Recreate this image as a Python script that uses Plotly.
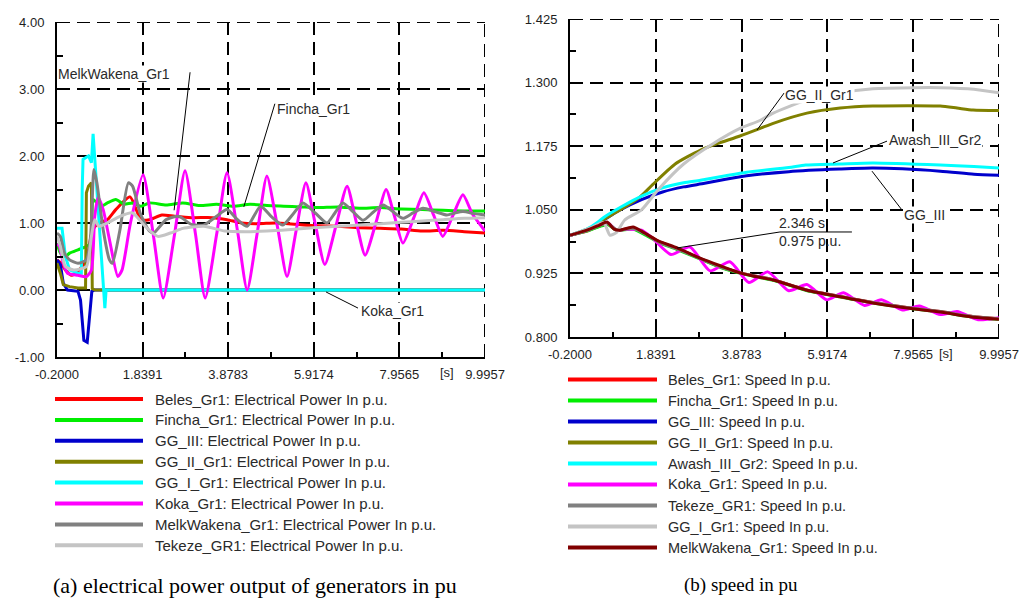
import plotly.graph_objects as go

W, H = 1020, 601

# ---------------- (a) electrical power output, p.u. ----------------
BELES_P_T = [-0.2, -0.1, 0.0, 0.15, 0.3, 0.5, 0.65, 0.8, 1.0, 1.2, 1.54, 1.8, 2.0, 2.3, 2.6, 3.0, 3.5, 3.85, 4.2, 4.6,
             5.0, 5.5, 6.0, 6.5, 7.0, 7.5, 8.0, 8.5, 9.0, 9.5, 9.9957]
BELES_P = [0.45, 0.4, 0.3, 0.22, 0.28, 0.45, 0.9, 1.0, 1.05, 1.2, 1.39, 1.05, 1.05, 1.12, 1.1, 1.08, 1.08, 1.05, 1.0, 0.99,
           1.0, 0.98, 0.96, 0.95, 0.93, 0.92, 0.91, 0.88, 0.89, 0.87, 0.85]

FINCHA_P_T = [-0.2, -0.12, 0.0, 0.1, 0.3, 0.5, 0.6, 0.66, 0.75, 0.85, 1.0, 1.2, 1.4, 1.6, 1.8, 2.0, 2.4, 2.8, 3.2, 3.6,
              4.0, 4.4, 4.8, 5.2, 5.6, 6.0, 6.5, 7.0, 7.5, 8.0, 8.5, 9.0, 9.5, 9.9957]
FINCHA_P = [0.7, 0.55, 0.5, 0.55, 0.6, 0.65, 0.7, 1.35, 1.3, 1.25, 1.3, 1.35, 1.28, 1.3, 1.25, 1.3, 1.27, 1.3, 1.26, 1.28,
            1.25, 1.28, 1.26, 1.25, 1.24, 1.23, 1.24, 1.22, 1.23, 1.21, 1.2, 1.19, 1.18, 1.18]

GG3_P_T = [-0.2, -0.12, -0.05, 0.05, 0.3, 0.36, 0.40, 0.44, 0.52, 0.56, 0.6, 0.63, 0.7, 9.9957]
GG3_P = [0.45, 0.38, 0.1, 0.0, -0.02, -0.15, -0.45, -0.75, -0.78, -0.5, -0.15, -0.02, 0.0, 0.0]

GG2_P_T = [-0.2, -0.12, -0.05, 0.1, 0.3, 0.48, 0.5, 0.55, 0.62, 0.64, 0.7, 9.9957]
GG2_P = [0.4, 0.25, 0.08, 0.05, 0.03, 0.03, 1.45, 1.55, 1.6, 0.02, 0.0, 0.0]

GG1_P_T = [-0.2, -0.08, 0.0, 0.1, 0.3, 0.38, 0.40, 0.42, 0.55, 0.62, 0.66, 0.70, 0.8, 0.9, 0.94, 0.97, 9.9957]
GG1_P = [0.92, 0.92, 0.5, 0.3, 0.25, 0.25, 1.5, 1.95, 2.0, 1.9, 2.33, 1.95, 0.9, 0.05, -0.27, 0.0, 0.0]

KOKA_P_T = [-0.2, -0.15, -0.05, 0.05, 0.3, 0.5, 0.62, 0.7, 0.78, 0.9, 1.05, 1.25, 1.35, 1.55, 1.85, 2.1, 2.33, 2.6,
            2.85, 3.1, 3.33, 3.6, 3.85, 4.1, 4.33, 4.57, 4.8, 5.05, 5.28, 5.5, 5.73, 5.95, 6.18, 6.45, 6.71, 6.92,
            7.14, 7.4, 7.64, 7.84, 8.04, 8.3, 8.54, 8.77, 8.99, 9.23, 9.47, 9.7, 9.9957]
KOKA_P = [0.68, 0.66, 0.4, 0.25, 0.22, 0.2, 0.3, 1.1, 1.38, 1.2, 0.75, 0.2, 0.3, 1.0, 1.72, 0.8, -0.12, 0.83,
          1.78, 0.83, -0.12, 0.82, 1.75, 0.88, 0.0, 0.85, 1.7, 0.95, 0.2, 0.9, 1.6, 0.99, 0.38, 0.97, 1.55, 1.04,
          0.52, 1.01, 1.5, 1.1, 0.7, 1.08, 1.45, 1.12, 0.8, 1.11, 1.42, 1.13, 0.88]

MELK_P_T = [-0.2, -0.12, -0.02, 0.1, 0.3, 0.5, 0.6, 0.68, 0.75, 0.9, 1.05, 1.12, 1.3, 1.5, 1.6, 1.78, 2.0, 2.1, 2.4,
            2.7, 3.0, 3.3, 3.6, 3.85, 4.1, 4.33, 4.65, 4.9, 5.18, 5.42, 5.66, 5.95, 6.23, 6.42, 6.61, 6.85, 7.09,
            7.33, 7.57, 7.8, 8.04, 8.28, 8.52, 8.8, 9.09, 9.28, 9.47, 9.75, 9.9957]
MELK_P = [0.85, 0.8, 0.55, 0.45, 0.4, 0.45, 0.8, 1.8, 1.6, 0.9, 0.45, 0.4, 0.9, 1.6, 1.55, 1.15, 0.88, 0.85, 1.05,
          1.1, 0.98, 0.97, 1.1, 1.2, 1.05, 0.95, 1.25, 1.1, 0.97, 1.13, 1.3, 1.15, 1.0, 1.15, 1.3, 1.17, 1.04,
          1.16, 1.27, 1.17, 1.07, 1.15, 1.22, 1.17, 1.12, 1.15, 1.17, 1.14, 1.12]

TEK_P_T = [-0.2, -0.12, 0.0, 0.2, 0.5, 0.62, 0.7, 0.8, 1.0, 1.3, 1.6, 1.9, 2.2, 2.5, 2.8, 3.3, 3.8, 4.3, 4.8, 5.3,
           5.9, 6.5, 7.0, 7.5, 8.0, 8.5, 9.0, 9.5, 9.9957]
TEK_P = [0.8, 0.65, 0.35, 0.3, 0.35, 0.8, 1.05, 0.95, 1.0, 1.1, 1.15, 0.95, 0.8, 0.85, 0.92, 0.95, 0.88, 0.87, 0.88, 0.9,
         0.93, 0.95, 0.97, 0.99, 1.01, 1.03, 1.05, 1.07, 1.08]

# ---------------- (b) rotor speed, p.u. ----------------
BELES_S_T = [-0.2, 0.2, 0.5, 0.7, 0.9, 1.3, 1.6, 1.9, 2.346, 2.9, 3.4, 3.9, 4.6, 5.4, 6.2, 7.0, 7.8, 8.6, 9.4, 9.9957]
BELES_S = [1.0, 1.008, 1.018, 1.022, 1.01, 1.014, 1.003, 0.988, 0.974, 0.954, 0.937, 0.925, 0.913, 0.893, 0.88, 0.868,
           0.858, 0.85, 0.84, 0.836]

FINCHA_S_T = [-0.2, 0.2, 0.5, 0.7, 0.9, 1.3, 1.6, 1.9, 2.346, 2.9, 3.4, 3.9, 4.6, 5.4, 6.2, 7.0, 7.8, 8.6, 9.4, 9.9957]
FINCHA_S = [1.0, 1.008, 1.017, 1.021, 1.01, 1.012, 1.0, 0.986, 0.972, 0.953, 0.936, 0.924, 0.912, 0.892, 0.879, 0.867,
            0.857, 0.849, 0.839, 0.835]

GG3_S_T = [-0.2, 0.2, 0.6, 1.0, 1.5, 2.0, 2.5, 3.0, 3.5, 4.0, 5.0, 6.2, 7.0, 8.6, 9.4, 9.9957]
GG3_S = [1.0, 1.01, 1.03, 1.05, 1.07, 1.085, 1.095, 1.102, 1.11, 1.117, 1.125, 1.13, 1.132, 1.126, 1.12, 1.118]

GG2_S_T = [-0.2, 0.3, 0.58, 1.0, 1.46, 1.77, 2.3, 2.89, 3.3, 3.84, 4.32, 4.63, 5.43, 6.22, 7.0, 8.6, 9.0, 9.38, 9.9957]
GG2_S = [1.0, 1.015, 1.03, 1.05, 1.075, 1.1, 1.14, 1.167, 1.18, 1.195, 1.21, 1.22, 1.24, 1.25, 1.254, 1.254, 1.25,
         1.246, 1.245]

AWASH_S_T = [-0.2, 0.2, 0.45, 0.6, 1.0, 1.5, 2.0, 2.5, 2.9, 3.5, 4.0, 5.0, 5.4, 6.2, 7.0, 8.6, 9.4, 9.9957]
AWASH_S = [1.0, 1.012, 1.025, 1.035, 1.055, 1.077, 1.093, 1.103, 1.108, 1.117, 1.124, 1.133, 1.138, 1.14, 1.142,
           1.138, 1.135, 1.132]

KOKA_S_T = [-0.2, 0.2, 0.5, 0.7, 0.9, 1.2, 1.5, 1.75, 2.2, 2.65, 3.13, 3.6, 4.05, 4.5, 5.0, 5.43, 5.9, 6.3, 6.8,
            7.2, 7.7, 8.1, 8.6, 9.0, 9.5, 9.9957]
KOKA_S = [1.0, 1.01, 1.02, 1.024, 1.01, 1.012, 1.01, 0.995, 0.962, 0.977, 0.93, 0.948, 0.907, 0.928, 0.891, 0.903,
          0.873, 0.887, 0.862, 0.873, 0.853, 0.861, 0.844, 0.85, 0.834, 0.838]

TEK_S_T = [-0.2, 0.2, 0.5, 0.7, 0.9, 1.3, 1.6, 1.9, 2.346, 2.9, 3.4, 3.9, 4.6, 5.4, 6.2, 7.0, 7.8, 8.6, 9.4, 9.9957]
TEK_S = [1.0, 1.009, 1.019, 1.023, 1.011, 1.013, 1.002, 0.987, 0.973, 0.954, 0.937, 0.925, 0.913, 0.893, 0.88, 0.868,
         0.858, 0.85, 0.84, 0.836]

GG1_S_T = [-0.2, 0.3, 0.6, 0.75, 0.9, 1.1, 1.5, 1.9, 2.5, 3.2, 3.84, 4.3, 4.63, 5.4, 6.2, 7.0, 8.0, 8.6, 9.4, 9.9957]
GG1_S = [1.0, 1.015, 1.025, 1.0, 1.005, 1.03, 1.05, 1.09, 1.14, 1.18, 1.21, 1.225, 1.24, 1.265, 1.28, 1.288, 1.29,
         1.29, 1.287, 1.28]

MELK_S_T = [-0.2, 0.2, 0.5, 0.68, 0.85, 0.99, 1.3, 1.5, 1.87, 2.346, 2.89, 3.37, 3.84, 4.15, 4.63, 5.43, 6.22, 7.0,
            7.81, 8.6, 9.38, 9.9957]
MELK_S = [1.0, 1.01, 1.02, 1.026, 1.012, 1.01, 1.016, 1.008, 0.99, 0.975, 0.955, 0.94, 0.926, 0.92, 0.912, 0.892,
          0.879, 0.867, 0.857, 0.849, 0.839, 0.835]

# marked point on the MelkWakena speed curve
MARK_T, MARK_V = 2.346, 0.975

# ---------------- axes ----------------
T_RANGE = [-0.2, 9.9957]
T_TICKS = [-0.2, 1.8391, 3.8783, 5.9174, 7.9565, 9.9957]
T_LABELS = ["-0.2000", "1.8391", "3.8783", "5.9174", "7.9565", "9.9957"]
T_MINOR = [0.8196, 2.8587, 4.8978, 6.937, 8.9761]

P_RANGE = [-1.0, 4.0]
P_TICKS = [-1.0, 0.0, 1.0, 2.0, 3.0, 4.0]
P_LABELS = ["-1.00", "0.00", "1.00", "2.00", "3.00", "4.00"]
P_MINOR = [-0.5, 0.5, 1.5, 2.5, 3.5]

S_RANGE = [0.8, 1.425]
S_TICKS = [0.8, 0.925, 1.05, 1.175, 1.3, 1.425]
S_LABELS = ["0.800", "0.925", "1.050", "1.175", "1.300", "1.425"]
S_MINOR = [0.8625, 0.9875, 1.1125, 1.2375, 1.3625]

RED, GREEN, BLUE, OLIVE = "#ff0000", "#00ee00", "#0000cc", "#808000"
CYAN, MAGENTA, DGRAY, LGRAY, MAROON = "#00ffff", "#ff00ff", "#808080", "#c4c4c4", "#800000"

POWER_SERIES = [
    ("Beles_Gr1: Electrical Power In p.u.", RED, BELES_P_T, BELES_P, "spline"),
    ("Fincha_Gr1: Electrical Power In p.u.", GREEN, FINCHA_P_T, FINCHA_P, "spline"),
    ("GG_III: Electrical Power In p.u.", BLUE, GG3_P_T, GG3_P, "linear"),
    ("GG_II_Gr1: Electrical Power In p.u.", OLIVE, GG2_P_T, GG2_P, "linear"),
    ("GG_I_Gr1: Electrical Power In p.u.", CYAN, GG1_P_T, GG1_P, "linear"),
    ("Koka_Gr1: Electrical Power In p.u.", MAGENTA, KOKA_P_T, KOKA_P, "spline"),
    ("MelkWakena_Gr1: Electrical Power In p.u.", DGRAY, MELK_P_T, MELK_P, "spline"),
    ("Tekeze_GR1: Electrical Power In p.u.", LGRAY, TEK_P_T, TEK_P, "spline"),
]

SPEED_SERIES = [
    ("Beles_Gr1: Speed In p.u.", RED, BELES_S_T, BELES_S),
    ("Fincha_Gr1: Speed In p.u.", GREEN, FINCHA_S_T, FINCHA_S),
    ("GG_III: Speed In p.u.", BLUE, GG3_S_T, GG3_S),
    ("GG_II_Gr1: Speed In p.u.", OLIVE, GG2_S_T, GG2_S),
    ("Awash_III_Gr2: Speed In p.u.", CYAN, AWASH_S_T, AWASH_S),
    ("Koka_Gr1: Speed In p.u.", MAGENTA, KOKA_S_T, KOKA_S),
    ("Tekeze_GR1: Speed In p.u.", DGRAY, TEK_S_T, TEK_S),
    ("GG_I_Gr1: Speed In p.u.", LGRAY, GG1_S_T, GG1_S),
    ("MelkWakena_Gr1: Speed In p.u.", MAROON, MELK_S_T, MELK_S),
]


def px(x):
    return x / W


def py(y):
    return 1 - y / H


fig = go.Figure()

for name, color, t, v, shape in POWER_SERIES:
    fig.add_trace(go.Scatter(x=t, y=v, mode="lines", name=name, xaxis="x", yaxis="y",
                             line=dict(color=color, width=3, shape=shape, smoothing=0.6),
                             showlegend=False, hoverinfo="skip"))

for name, color, t, v in SPEED_SERIES:
    fig.add_trace(go.Scatter(x=t, y=v, mode="lines", name=name, xaxis="x2", yaxis="y2",
                             line=dict(color=color, width=3, shape="spline", smoothing=0.6),
                             showlegend=False, hoverinfo="skip"))

TICK_FONT = dict(family="Liberation Sans, Arial, sans-serif", size=13, color="#1e1e1e")
GRID = dict(showgrid=True, gridcolor="black", gridwidth=2, griddash="13px,7px", zeroline=False,
            showline=True, linecolor="black", linewidth=2, ticks="inside", tickcolor="black",
            tickwidth=2, ticklen=7, tickfont=TICK_FONT, fixedrange=True, automargin=False)


def x_axis(domain, anchor):
    return dict(domain=domain, anchor=anchor, range=T_RANGE, tickmode="array", tickvals=T_TICKS,
                ticktext=T_LABELS, ticklabelstandoff=4,
                minor=dict(tickvals=T_MINOR, ticks="inside", ticklen=5, tickwidth=2, tickcolor="black",
                           showgrid=False), **GRID)


def y_axis(domain, anchor, rng, vals, labels, minor):
    return dict(domain=domain, anchor=anchor, range=rng, tickmode="array", tickvals=vals, ticktext=labels,
                ticklabelstandoff=8,
                minor=dict(tickvals=minor, ticks="inside", ticklen=6, tickwidth=2, tickcolor="black",
                           showgrid=False), **GRID)


shapes = []
annotations = []

# dashed frame edges on the top and right of each panel
for xr, yr, x1, ytop, y0 in (("x", "y", T_RANGE[1], P_RANGE[1], P_RANGE[0]),
                             ("x2", "y2", T_RANGE[1], S_RANGE[1], S_RANGE[0])):
    shapes.append(dict(type="line", xref=xr, yref=yr, x0=T_RANGE[0], x1=x1, y0=ytop, y1=ytop,
                       line=dict(color="black", width=2, dash="13px,7px"), layer="below"))
    shapes.append(dict(type="line", xref=xr, yref=yr, x0=x1, x1=x1, y0=y0, y1=ytop,
                       line=dict(color="black", width=2, dash="13px,7px"), layer="below"))

LABEL_FONT = dict(family="Liberation Sans, Arial, sans-serif", size=14, color="#2a2a2a")


def callout(xr, yr, text, tx, ty, leader):
    annotations.append(dict(xref=xr, yref=yr, x=tx, y=ty, text=text, showarrow=False, xanchor="left",
                            yanchor="middle", font=LABEL_FONT, bgcolor="white", borderpad=0))
    for (xa, ya), (xb, yb) in zip(leader[:-1], leader[1:]):
        shapes.append(dict(type="line", xref=xr, yref=yr, x0=xa, y0=ya, x1=xb, y1=yb,
                           line=dict(color="black", width=1)))


# series labels in panel (a)
callout("x", "y", "MelkWakena_Gr1", -0.2, 3.22, [(2.97, 3.25), (2.59, 1.19)])
callout("x", "y", "Fincha_Gr1", 5.02, 2.70, [(4.99, 2.78), (4.25, 1.24)])
callout("x", "y", "Koka_Gr1", 7.02, -0.31, [(6.21, -0.03), (6.97, -0.27)])

# series labels in panel (b)
callout("x2", "y2", "GG_II_Gr1", 4.89, 1.2756, [(4.89, 1.2796), (4.244, 1.2068)])
callout("x2", "y2", "Awash_III_Gr2", 7.36, 1.187, [(7.334, 1.185), (6.05, 1.142)])
callout("x2", "y2", "GG_III", 7.714, 1.040, [(7.69, 1.0496), (6.977, 1.126)])

# value marker on the MelkWakena speed curve
for (xa, ya), (xb, yb) in zip([(MARK_T, MARK_V), (4.79, 1.0064)], [(4.79, 1.0064), (6.50, 1.0064)]):
    shapes.append(dict(type="line", xref="x2", yref="y2", x0=xa, y0=ya, x1=xb, y1=yb,
                       line=dict(color="black", width=1)))
annotations.append(dict(xref="x2", yref="y2", x=4.72, y=1.0240, text=f"{MARK_T:.3f} s", showarrow=False,
                        xanchor="left", yanchor="middle", font=LABEL_FONT))
annotations.append(dict(xref="x2", yref="y2", x=4.72, y=0.9887, text=f"{MARK_V:.3f} p.u.", showarrow=False,
                        xanchor="left", yanchor="middle", font=LABEL_FONT))

# time-unit markers beside the last tick label
for xs, ys in ((447, 372), (946, 353)):
    annotations.append(dict(xref="paper", yref="paper", x=px(xs), y=py(ys), text="[s]", showarrow=False,
                            xanchor="center", yanchor="middle", font=TICK_FONT))

# legends under each panel
LEGEND_FONT_A = dict(family="Liberation Sans, Arial, sans-serif", size=15, color="#2a2a2a")
LEGEND_FONT_B = dict(family="Liberation Sans, Arial, sans-serif", size=14.5, color="#2a2a2a")
for i, (name, color, *_rest) in enumerate(POWER_SERIES):
    yy = 399 + 20.9 * i
    shapes.append(dict(type="line", xref="paper", yref="paper", x0=px(55), x1=px(143), y0=py(yy), y1=py(yy),
                       line=dict(color=color, width=4)))
    annotations.append(dict(xref="paper", yref="paper", x=px(153), y=py(yy), text=name, showarrow=False,
                            xanchor="left", yanchor="middle", font=LEGEND_FONT_A))
for i, (name, color, *_rest) in enumerate(SPEED_SERIES):
    yy = 379.5 + 21.0 * i
    shapes.append(dict(type="line", xref="paper", yref="paper", x0=px(568), x1=px(657), y0=py(yy), y1=py(yy),
                       line=dict(color=color, width=4)))
    annotations.append(dict(xref="paper", yref="paper", x=px(666), y=py(yy), text=name, showarrow=False,
                            xanchor="left", yanchor="middle", font=LEGEND_FONT_B))

# panel captions
SERIF = "Liberation Serif, Times New Roman, serif"
annotations.append(dict(xref="paper", yref="paper", x=px(255), y=py(585), showarrow=False, xanchor="center",
                        yanchor="middle", text="(a) electrical power output of generators in pu",
                        font=dict(family=SERIF, size=22, color="black")))
annotations.append(dict(xref="paper", yref="paper", x=px(741), y=py(585), showarrow=False, xanchor="center",
                        yanchor="middle", text="(b) speed in pu",
                        font=dict(family=SERIF, size=19, color="black")))

fig.update_layout(
    width=W, height=H, autosize=False,
    margin=dict(l=0, r=0, t=0, b=0, autoexpand=False),
    paper_bgcolor="white", plot_bgcolor="white",
    showlegend=False,
    xaxis=x_axis([px(57), px(485)], "y"),
    yaxis=y_axis([py(357), py(22)], "x", P_RANGE, P_TICKS, P_LABELS, P_MINOR),
    xaxis2=x_axis([px(570), px(999)], "y2"),
    yaxis2=y_axis([py(337), py(19)], "x2", S_RANGE, S_TICKS, S_LABELS, S_MINOR),
    shapes=shapes,
    annotations=annotations,
)

fig.write_html("out.html")
